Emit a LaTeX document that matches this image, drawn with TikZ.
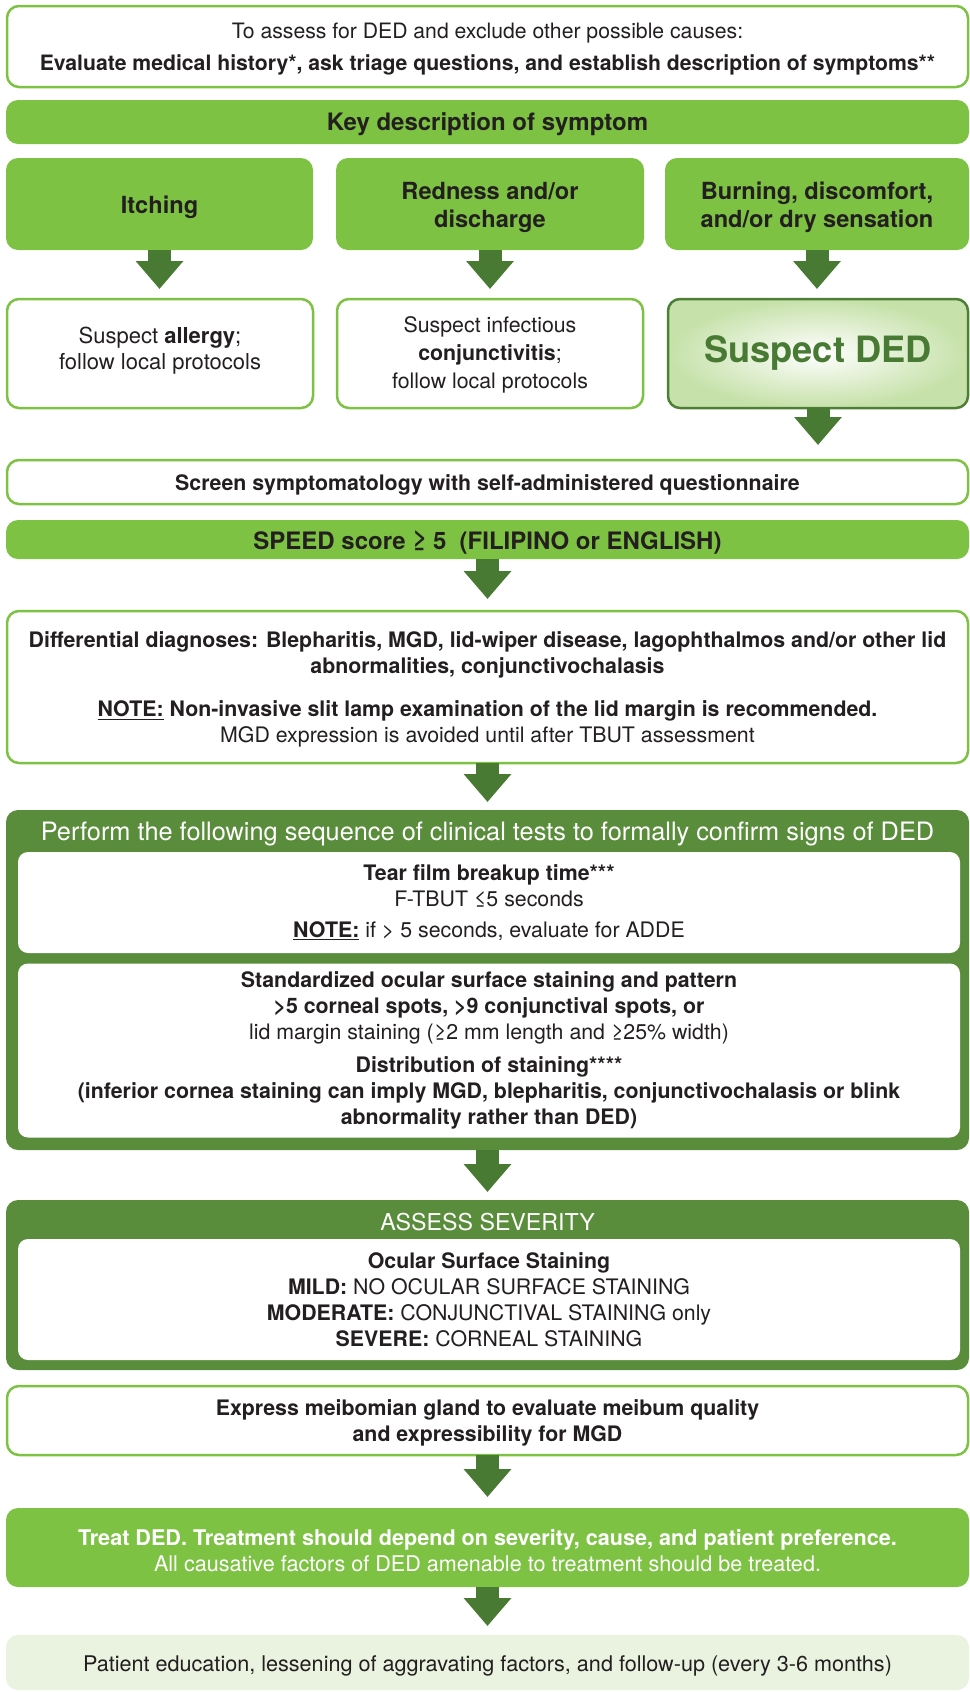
\documentclass[tikz,border=0pt]{standalone}
\usepackage{fontspec}
\setmainfont{TeX Gyre Heros}
\usetikzlibrary{arrows.meta}
\newlength\pxl \setlength\pxl{0.75pt}
\newcommand\fsz[2]{\fontsize{#1}{#2}\selectfont}
\definecolor{lgreen}{HTML}{7DC242}
\definecolor{dgreen}{HTML}{5A8D3B}
\definecolor{agreen}{HTML}{487A34}
\definecolor{ink}{HTML}{231F20}
\definecolor{pale}{HTML}{E9F3DF}
\definecolor{sedge}{HTML}{C6E1A9}
\definecolor{sborder}{HTML}{4E7F37}
\begin{document}
\begin{tikzpicture}[x=0.75pt,y=-0.75pt,
  every node/.style={inner sep=0pt, outer sep=0pt, text=ink, align=center},
  wbox/.style={draw=lgreen, line width=2.5\pxl, fill=white, rounded corners=12\pxl},
  gbar/.style={fill=lgreen, rounded corners=12\pxl},
  dbox/.style={fill=dgreen, rounded corners=12\pxl},
  ibox/.style={fill=white, rounded corners=10\pxl},
  pbox/.style={fill=pale, rounded corners=12\pxl},
  flow/.style={draw=agreen, line width=17.25pt, -{Triangle[width=34.5pt,length=21pt]}},
  body/.style={font=\fsz{16}{19.5}},
  sz/.style 2 args={minimum width=#1\pxl, minimum height=#2\pxl}
]
\useasboundingbox (0,0) rectangle (970,1692);

% top
\node[wbox, sz={961}{81}] (top) at (487.5,46.5) {};
\node[font=\fsz{15.9}{24}] (topt) at ([yshift=-2pt]top.center)
  {To assess for DED and exclude other possible causes:\\
   \textbf{Evaluate medical history*, ask triage questions, and establish description of symptoms**}};

\node[gbar, sz={963}{44}] (key) at (487.5,122) {};
\node[font=\bfseries\fsz{18}{20}] (keyt) at ([yshift=-1.6pt]key.center) {Key description of symptom};

% symptoms
\node[gbar, sz={307}{92}] (itch) at (159.5,204) {};
\node[font=\bfseries\fsz{17.7}{21}] (itcht) at ([yshift=-2.4pt]itch.center) {Itching};
\node[gbar, sz={308}{92}] (red) at (490,204) {};
\node[font=\bfseries\fsz{17.7}{21}] (redt) at ([yshift=-2.4pt]red.center) {Redness and/or\\discharge};
\node[gbar, sz={304}{92}] (burn) at (817,204) {};
\node[font=\bfseries\fsz{17.7}{21}] (burnt) at ([yshift=-2.4pt]burn.center) {Burning, discomfort,\\and/or dry sensation};

% row 2
\node[wbox, sz={306}{109}] (allergy) at (160,353.5) {};
\node[font=\fsz{16.5}{19.5}] (allergyt) at ([yshift=2.2pt]allergy.center) {Suspect \textbf{allergy};\\follow local protocols};
\node[wbox, sz={306}{109}] (infect) at (490,353.5) {};
\node[font=\fsz{16}{21}] (infectt) at ([yshift=-0.8pt]infect.center) {Suspect infectious\\\textbf{conjunctivitis};\\follow local protocols};
\node[draw=sborder, line width=2.5\pxl, rounded corners=12\pxl, shading=radial, inner color=white, outer color=sedge,
      sz={300}{109}, font=\bfseries\fsz{27.2}{30}, text=agreen] (sus) at (818,353.5) {Suspect DED};

% screen + speed
\node[wbox, sz={961}{44}] (screen) at (487.5,482) {};
\node[font=\bfseries\fsz{16}{19}] (screent) at ([yshift=-2.4pt]screen.center) {Screen symptomatology with self-administered questionnaire};
\node[gbar, sz={963}{39}] (speed) at (487.5,539.5) {};
\node[font=\bfseries\fsz{18}{20}] (speedt) at ([yshift=-2.4pt]speed.center) {SPEED score ≥ 5\ \ (FILIPINO or ENGLISH)};

% differential
\node[wbox, sz={961}{152}] (diff) at (487.5,687) {};
\node[body] (difft) at ([yshift=-2pt]diff.center)
  {\textbf{Differential diagnoses: Blepharitis, MGD, lid-wiper disease, lagophthalmos and/or other lid}\\
   \textbf{abnormalities, conjunctivochalasis}\\[13pt]
   \textbf{\underline{NOTE:} Non-invasive slit lamp examination of the lid margin is recommended.}\\
   MGD expression is avoided until after TBUT assessment};

% clinical tests
\node[dbox, sz={963}{340}] (clin) at (487.5,980) {};
\node[font=\fsz{19}{20}, text=white] (clinhead) at (487.5,834) {Perform the following sequence of clinical tests to formally confirm signs of DED};
\node[ibox, sz={942}{101}, body] (tbut) at (489,902.5)
  {\textbf{Tear film breakup time***}\\
   F-TBUT ≤5 seconds\\[4pt]
   \textbf{\underline{NOTE:}} if > 5 seconds, evaluate for ADDE};
\node[ibox, sz={942}{174}, body] (stain) at (489,1050.5)
  {\textbf{Standardized ocular surface staining and pattern}\\
   \textbf{>5 corneal spots, >9 conjunctival spots, or}\\
   lid margin staining (≥2 mm length and ≥25\% width)\\[5pt]
   \textbf{Distribution of staining****}\\
   \textbf{(inferior cornea staining can imply MGD, blepharitis, conjunctivochalasis or blink}\\
   \textbf{abnormality rather than DED)}};

% severity
\node[dbox, sz={963}{170}] (sev) at (487.5,1285) {};
\node[font=\fsz{17.4}{20}, text=white] (sevhead) at (487.5,1222) {ASSESS SEVERITY};
\node[ibox, sz={942}{121}, body] (sevin) at (489,1299.5)
  {\textbf{Ocular Surface Staining}\\
   \textbf{MILD:} NO OCULAR SURFACE STAINING\\
   \textbf{MODERATE:} CONJUNCTIVAL STAINING only\\
   \textbf{SEVERE:} CORNEAL STAINING};

% express
\node[wbox, sz={961}{69}] (expr) at (487.5,1420.5) {};
\node[body] (exprt) at ([yshift=-1.6pt]expr.center)
  {\textbf{Express meibomian gland to evaluate meibum quality}\\
   \textbf{and expressibility for MGD}};

% treat
\node[gbar, sz={963}{79}] (treat) at (487.5,1547.5) {};
\node[font=\fsz{16.2}{19.5}, text=white] (treatt) at ([yshift=-2pt]treat.center)
  {\textbf{Treat DED. Treatment should depend on severity, cause, and patient preference.}\\
   All causative factors of DED amenable to treatment should be treated.};

% patient
\node[pbox, sz={963}{55}] (pat) at (487.5,1662.5) {};
\node[font=\fsz{16.2}{19.5}] (patt) at ([yshift=-2.4pt]pat.center)
  {Patient education, lessening of aggravating factors, and follow-up (every 3-6 months)};

% arrows
\draw[flow, shorten >=10\pxl] (itch.south) -- (itch.south |- allergy.north);
\draw[flow, shorten >=10\pxl] (red.south) -- (red.south |- infect.north);
\draw[flow, shorten >=10\pxl] (burn.south) -- (burn.south |- sus.north);
\draw[flow, shorten >=15\pxl] (sus.south) -- (sus.south |- screen.north);
\draw[flow, shorten >=12\pxl] (speed.south) -- (diff.north);
\draw[flow, shorten >=8\pxl] (diff.south) -- (clin.north);
\draw[flow, shorten >=8\pxl] (clin.south) -- (sev.north);
\draw[flow, shorten >=11\pxl] (expr.south) -- (treat.north);
\draw[flow, shorten >=9\pxl] (treat.south) -- (pat.north);
\end{tikzpicture}
\end{document}
